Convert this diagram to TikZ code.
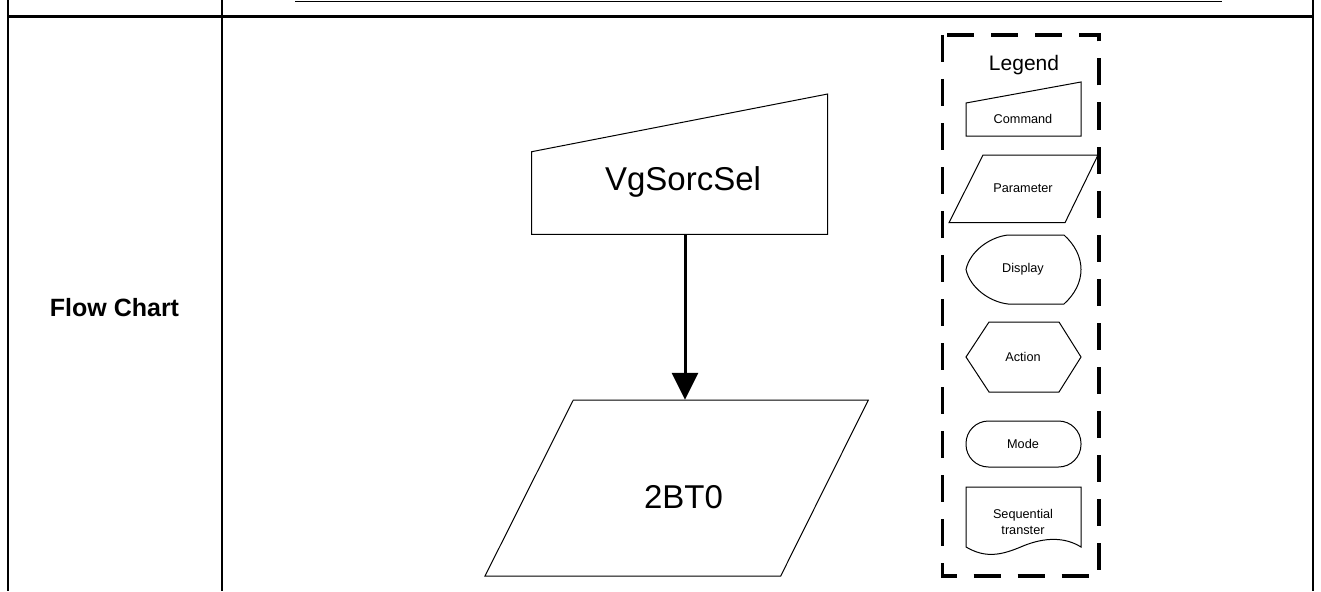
\documentclass[tikz,border=0pt]{standalone}
\usepackage{fontspec}
\setmainfont{Liberation Sans}
\usetikzlibrary{arrows.meta}
\begin{document}
\begin{tikzpicture}[x=1pt,y=-1pt,
  tabline/.style={line width=2pt,black},
  shapeline/.style={line width=1pt,black,line join=miter},
  legendbox/.style={line width=3.6pt,black,dash pattern=on 27pt off 17pt},
  box/.style={draw=none,inner sep=0pt,minimum width=10pt},
  bigtxt/.style={inner sep=0pt,font=\fontsize{33}{38}\selectfont},
  smalltxt/.style={inner sep=0pt,align=center,font=\fontsize{12.7}{16}\selectfont},
  flowarrow/.style={line width=3pt,-{Triangle[width=26pt,length=27pt]}}]
\useasboundingbox (0,0) rectangle (1321,591);
% table
\draw[tabline] (8,0) -- (8,591);
\draw[tabline] (222,0) -- (222,591);
\draw[tabline] (1313,0) -- (1313,591);
\draw[line width=3pt] (7,17) -- (1314,17);
\draw[line width=1.5pt] (295,1.5) -- (1222,1.5);
\node[inner sep=0pt,font=\fontsize{25}{30}\selectfont\bfseries] (fc) at (114.5,307.5) {Flow Chart};
% main command shape
\draw[shapeline] (531.7,234.3) -- (827.7,234.3) -- (827.7,94) -- (531.7,151.7) -- cycle;
\node[box,minimum height=82.6pt] (cmd) at (685,193) {};
\node[bigtxt] (cmdtxt) at (683,182) {VgSorcSel};
% main parameter shape
\draw[shapeline] (573.3,400) -- (868.3,400) -- (780.7,576) -- (485,576) -- cycle;
\node[box,minimum height=176pt] (par) at (685,488) {};
\node[bigtxt] (partxt) at (683.5,497) {2BT0};
\draw[flowarrow] (cmd.south) -- (par.north);
% legend
\draw[legendbox] (942.5,35) rectangle (1099,576);
\node[inner sep=0pt,font=\fontsize{21}{25}\selectfont] (leg) at (1024,65.5) {Legend};
\draw[shapeline] (966,136) -- (1081,136) -- (1081,82) -- (966,103) -- cycle;
\node[smalltxt] (lcmd) at (1023,119) {Command};
\draw[shapeline] (983,155) -- (1098,155) -- (1065,222.7) -- (949,222.7) -- cycle;
\node[smalltxt] (lpar) at (1023,188.5) {Parameter};
\draw[shapeline] (1008,235) -- (1064,235)
  .. controls (1075,245) and (1081,257) .. (1081,269.5)
  .. controls (1081,282) and (1075,294) .. (1064,304)
  -- (1008,304)
  .. controls (990,302) and (970,288) .. (966,269.5)
  .. controls (970,251) and (990,237) .. (1008,235) -- cycle;
\node[smalltxt] (ldis) at (1023,269.5) {Display};
\draw[shapeline] (966,357) -- (989,322) -- (1059,322) -- (1081,357) -- (1059,392) -- (989,392) -- cycle;
\node[smalltxt] (lact) at (1023,357) {Action};
\draw[shapeline,rounded corners=22.5pt] (966,421) rectangle (1081,467);
\node[smalltxt] (lmode) at (1023,444) {Mode};
\draw[shapeline] (966,487) -- (1081,487) -- (1081,547)
  .. controls (1065,537) and (1045,537) .. (1023,546)
  .. controls (1000,556) and (985,558) .. (966,547) -- cycle;
\node[smalltxt] (lseq) at (1023,522) {Sequential\\transter};
\end{tikzpicture}
\end{document}
